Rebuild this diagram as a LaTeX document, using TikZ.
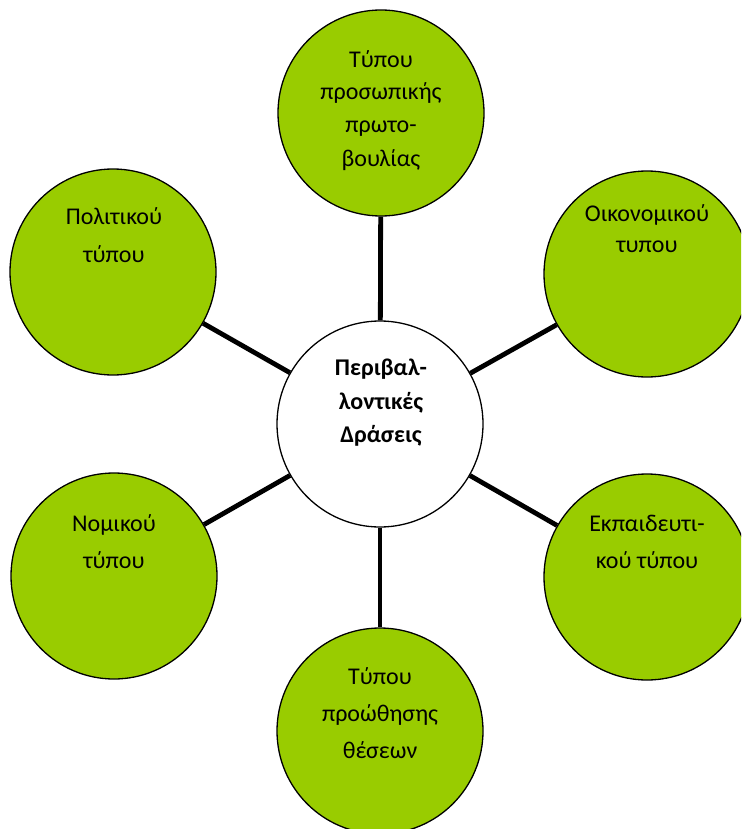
\documentclass[tikz,border=0pt]{standalone}
\usepackage{fontspec}
\setmainfont{Carlito}
\definecolor{leaf}{HTML}{99CC00}
\begin{document}
\begin{tikzpicture}[x=1pt,y=-1pt,
  bubble/.style={circle, draw=black, line width=1.3pt, fill=leaf, minimum size=206pt, inner sep=0pt},
  hub/.style={bubble, fill=white},
  link/.style={line width=4.8pt},
  txt/.style={anchor=base, inner sep=0pt, font=\fontsize{24}{28}\selectfont},
  btxt/.style={txt, font=\fontsize{24}{28}\selectfont\bfseries}]
\useasboundingbox (0,0) rectangle (741,829);
\clip (0,0) rectangle (741,829);
\node[hub]    (C)  at (380,424) {};
\node[bubble] (T)  at (381,113) {};
\node[bubble] (B)  at (380,731) {};
\node[bubble] (TL) at (113,272) {};
\node[bubble] (BL) at (114,576) {};
\node[bubble] (TR) at (647,274) {};
\node[bubble] (BR) at (647,577) {};
\foreach \n in {T,B,TL,BL,TR,BR} \draw[link] (C) -- (\n);
% texts
\node[btxt] (c1) at (381,375) {Περιβαλ-};
\node[btxt] (c2) at (381,409) {λοντικές};
\node[btxt] (c3) at (381,442) {Δράσεις};
\node[txt] (t1) at (381,68) {Τύπου};
\node[txt] (t2) at (381,100) {προσωπικής};
\node[txt] (t3) at (381,133) {πρωτο-};
\node[txt] (t4) at (381,167) {βουλίας};
\node[txt] (l1) at (114,224) {Πολιτικού};
\node[txt] (l2) at (114,262) {τύπου};
\node[txt] (r1) at (647,221) {Οικονομικού};
\node[txt] (r2) at (647,252) {τυπου};
\node[txt] (bl1) at (114,531) {Νομικού};
\node[txt] (bl2) at (114,568) {τύπου};
\node[txt] (br1) at (647,531) {Εκπαιδευτι-};
\node[txt] (br2) at (647,568) {κού τύπου};
\node[txt] (b1) at (380,684) {Τύπου};
\node[txt] (b2) at (380,721) {προώθησης};
\node[txt] (b3) at (380,758) {θέσεων};
\end{tikzpicture}
\end{document}
